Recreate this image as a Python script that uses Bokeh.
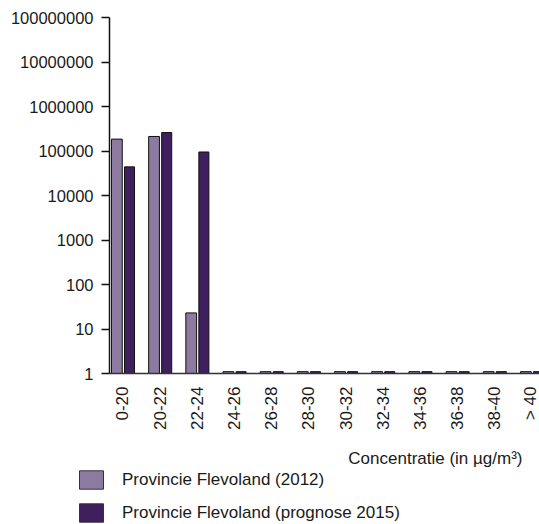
import math
from bokeh.plotting import figure
from bokeh.layouts import column, row
from bokeh.models import (Range1d, FixedTicker, NumeralTickFormatter, Legend,
                          LegendItem, Label, ColumnDataSource)
from bokeh.embed import file_html
from bokeh.resources import INLINE

categories = ["0-20", "20-22", "22-24", "24-26", "26-28", "28-30", "30-32",
              "32-34", "34-36", "36-38", "38-40", "> 40"]
flevoland_2012 = [185000, 212000, 23, 1.1, 1.1, 1.1, 1.1, 1.1, 1.1, 1.1, 1.1, 1.1]
flevoland_2015 = [44000, 260000, 95000, 1.1, 1.1, 1.1, 1.1, 1.1, 1.1, 1.1, 1.1, 1.1]
y_ticks = [1, 10, 100, 1000, 10000, 100000, 1000000, 10000000, 100000000]
series_names = ["Provincie Flevoland (2012)", "Provincie Flevoland (prognose 2015)"]
x_title = "Concentratie (in µg/m³)"
colors = ["#8c7aa0", "#3f1f5e"]

FONT = "Liberation Sans"
TXT = "#1a1a1a"

idx = list(range(len(categories)))
src = ColumnDataSource(dict(
    x1=[i - 0.165 for i in idx], x2=[i + 0.175 for i in idx],
    a=flevoland_2012, b=flevoland_2015, base=[1] * len(idx)))

# ---------------- main chart ----------------
p = figure(width=539, height=445, output_backend="svg", toolbar_location=None,
           y_axis_type="log", x_range=Range1d(-0.363, 11.202),
           y_range=Range1d(1, 1e8),
           min_border_left=109, min_border_right=0, min_border_top=17,
           min_border_bottom=72)
p.outline_line_color = None
p.grid.visible = False
p.background_fill_color = "white"
p.border_fill_color = "white"

r1 = p.vbar(x="x1", top="a", bottom="base", width=0.29, source=src,
            fill_color=colors[0], line_color="#111111", line_width=1)
r2 = p.vbar(x="x2", top="b", bottom="base", width=0.27, source=src,
            fill_color=colors[1], line_color="#111111", line_width=1)

ya = p.yaxis[0]
ya.ticker = FixedTicker(ticks=y_ticks, minor_ticks=[])
ya.formatter = NumeralTickFormatter(format="0")
ya.major_tick_out = 8
ya.major_tick_in = 0
ya.minor_tick_out = 0
ya.minor_tick_in = 0
ya.major_label_standoff = 8
ya.major_label_text_font = FONT
ya.major_label_text_font_size = "16.5px"
ya.major_label_text_color = TXT
ya.axis_line_width = 1.5
ya.axis_line_color = "#111111"
ya.major_tick_line_color = "#111111"
ya.major_tick_line_width = 1.3

xa = p.xaxis[0]
xa.ticker = FixedTicker(ticks=idx, minor_ticks=[])
xa.major_label_overrides = {i: c for i, c in zip(idx, categories)}
xa.major_label_orientation = math.pi / 2
xa.major_tick_out = 0
xa.major_tick_in = 0
xa.minor_tick_out = 0
xa.minor_tick_in = 0
xa.major_label_standoff = 13
xa.major_label_text_font = FONT
xa.major_label_text_font_size = "17px"
xa.major_label_text_color = TXT
xa.axis_line_width = 1.3
xa.axis_line_color = "#333333"

# ---------------- legend / axis-title strip ----------------
p2 = figure(width=539, height=79, output_backend="svg", toolbar_location=None,
            x_range=Range1d(0, 539), y_range=Range1d(79, 0),
            x_axis_location=None, y_axis_location=None,
            min_border_left=0, min_border_right=0, min_border_top=0,
            min_border_bottom=0)
p2.outline_line_color = None
p2.grid.visible = False
p2.background_fill_color = "white"
p2.border_fill_color = "white"

g1 = p2.vbar(x="x1", top="a", bottom="base", width=0.29, source=src,
             fill_color=colors[0], line_color="#333333", line_width=1,
             visible=False)
g2 = p2.vbar(x="x2", top="b", bottom="base", width=0.27, source=src,
             fill_color=colors[1], line_color="#333333", line_width=1,
             visible=False)

p2.add_layout(Label(x=522, y=13, text=x_title, text_align="right",
                    text_baseline="middle", text_font=FONT,
                    text_font_size="17px", text_color=TXT))

legend = Legend(items=[LegendItem(label=series_names[0], renderers=[g1]),
                       LegendItem(label=series_names[1], renderers=[g2])],
                location=(76, 0), orientation="vertical",
                glyph_width=30, glyph_height=23, label_height=23,
                spacing=10, label_standoff=16, padding=0, margin=0,
                border_line_color=None, background_fill_alpha=0,
                label_text_font=FONT, label_text_font_size="17px",
                label_text_color=TXT)
p2.add_layout(legend)

layout = column(p, row(p2, spacing=0), spacing=0)
open("out.html", "w").write(file_html(layout, INLINE))
